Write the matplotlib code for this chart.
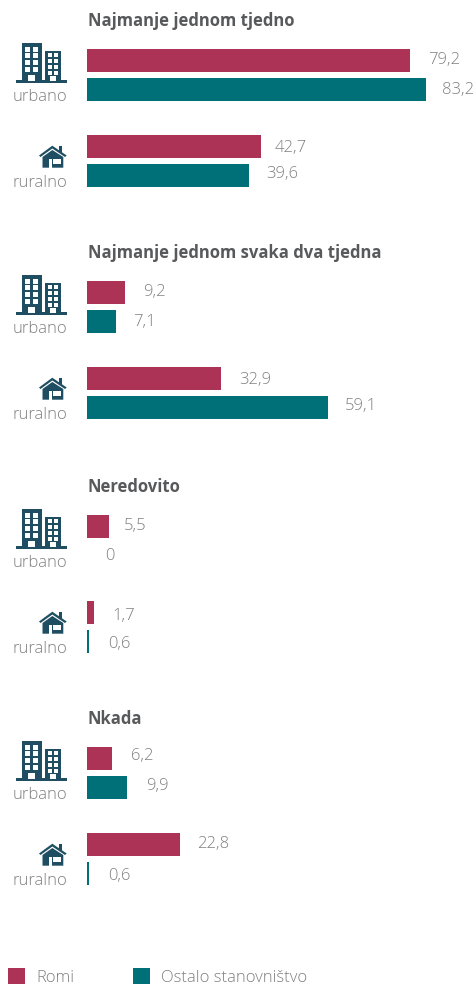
import matplotlib
matplotlib.use('Agg')
import matplotlib.pyplot as plt
from matplotlib.patches import Rectangle, Polygon

plt.rcParams['font.family'] = ['Open Sans', 'DejaVu Sans']

# data
titles = ['Najmanje jednom tjedno', 'Najmanje jednom svaka dva tjedna', 'Neredovito', 'Nkada']
areas = ['urbano', 'ruralno']
roma_urban = [79.2, 9.2, 5.5, 6.2]
other_urban = [83.2, 7.1, 0, 9.9]
roma_rural = [42.7, 32.9, 1.7, 22.8]
other_rural = [39.6, 59.1, 0.6, 0.6]
legend_labels = ['Romi', 'Ostalo stanovništvo']

RED = '#AD3356'
TEAL = '#007078'
ICON = '#1F4E63'
GREY = '#808080'
TITLE = '#58595B'

W, H = 477, 984
PX_PER_UNIT = 4.08
LEFT = 87
group_dy = [0, 232, 466, 698]

fig = plt.figure(figsize=(W / 100, H / 100), dpi=100)
ax = fig.add_axes([0, 0, 1, 1])
ax.set_xlim(-LEFT / PX_PER_UNIT, (W - LEFT) / PX_PER_UNIT)
ax.set_ylim(H, 0)
ax.axis('off')

# pixel axes for icons and text
px = fig.add_axes([0, 0, 1, 1], sharey=None)
px.set_xlim(0, W)
px.set_ylim(H, 0)
px.axis('off')
px.patch.set_alpha(0)


def rect(x0, y0, x1, y1, color):
    px.add_patch(Rectangle((x0, y0), x1 - x0, y1 - y0, color=color, lw=0))


def building(dy):
    rect(21.7, 43.3 + dy, 41.7, 81 + dy, ICON)
    rect(45, 50.7 + dy, 61, 81 + dy, ICON)
    rect(16, 80.3 + dy, 66.7, 83 + dy, ICON)
    for wy in [46.7, 53.3, 60, 66.7]:
        for wx in [25.3, 33.3]:
            rect(wx, wy + dy, wx + 5, wy + 5 + dy, 'white')
    for wy in [53.3, 59.3, 65.3, 71]:
        for wx in [47.7, 54]:
            rect(wx, wy + dy, wx + 4, wy + 4 + dy, 'white')
    rect(28.3, 75 + dy, 35, 81 + dy, 'white')
    rect(50, 76 + dy, 55.7, 81 + dy, 'white')


def house(dy):
    px.add_patch(Polygon([(39, 155.5 + dy), (52.3, 145.7 + dy), (66.7, 155.5 + dy), (65, 157 + dy),
                          (52.3, 148.5 + dy), (40.5, 157 + dy)], color=ICON, lw=0))
    px.add_patch(Polygon([(42.5, 157 + dy), (52.3, 150 + dy), (63.3, 157 + dy), (63.3, 167.7 + dy),
                          (42.5, 167.7 + dy)], color=ICON, lw=0))
    rect(59, 146.3 + dy, 62.3, 153 + dy, ICON)
    rect(49.3, 159 + dy, 51.7, 167.7 + dy, 'white')
    rect(53.3, 158.5 + dy, 60.7, 163.5 + dy, 'white')


# bars: (values, colour, top of bar in the group, label nudges in px per group)
rows = [
    (roma_urban, RED, 49, [(0, -1.5), (1, -1.5), (-4, -0.5), (1, -2.5)]),
    (other_urban, TEAL, 78, [(-2, 0.5), (-1, 0.5), (0, 0.5), (1, -1.5)]),
    (roma_rural, RED, 135, [(-5, 0.5), (0, 0.5), (0, 2.5), (-1, -0.5)]),
    (other_rural, TEAL, 164, [(0, -2.5), (-1, -2.5), (1, 1.5), (1, 1.5)]),
]
for values, color, top, nudges in rows:
    for v, dy, (nx, ny) in zip(values, group_dy, nudges):
        ax.barh(top + dy + 11.5, v, height=23, left=0, color=color, lw=0)
        ax.annotate(str(v).replace('.', ','), (v, top + dy + 12 + ny), xytext=((18 + nx) * 0.72, 0),
                    textcoords='offset points', ha='left', va='center', fontsize=12, color=GREY,
                    fontweight='light')

for title, dy in zip(titles, group_dy):
    px.text(88, 20.5 + dy, title, fontsize=12, fontweight='bold', color=TITLE, ha='left', va='center')
    building(dy)
    house(dy)
    px.text(67.5, 97 + dy, areas[0], fontsize=12, color=GREY, ha='right', va='center', fontweight='light')
    px.text(67.5, 183 + dy, areas[1], fontsize=12, color=GREY, ha='right', va='center', fontweight='light')

# legend
rect(8, 968, 25, 985, RED)
rect(133, 968, 150, 985, TEAL)
px.text(36, 978, legend_labels[0], fontsize=12, color=GREY, ha='left', va='center', fontweight='light')
px.text(161, 978, legend_labels[1], fontsize=12, color=GREY, ha='left', va='center', fontweight='light')

plt.savefig('out.png', dpi=100)
